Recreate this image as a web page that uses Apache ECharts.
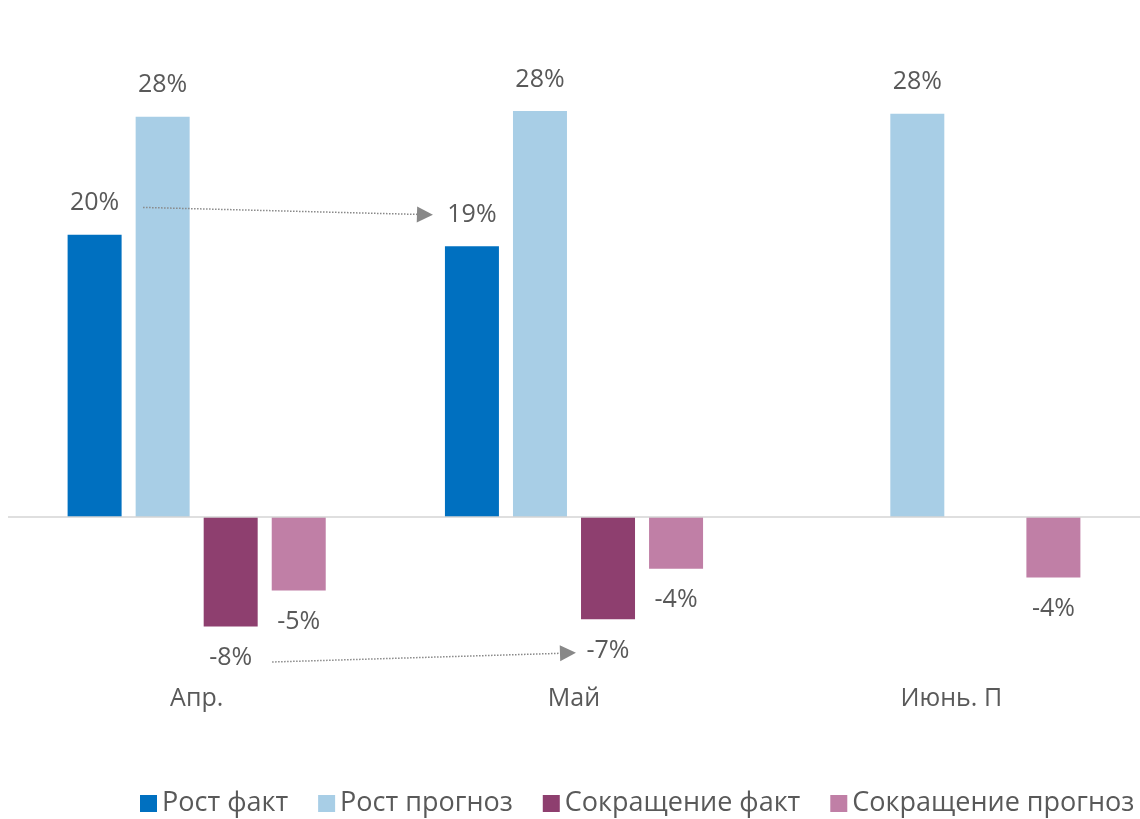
<!DOCTYPE html>
<html>
<head>
<meta charset="utf-8">
<script src="https://cdn.jsdelivr.net/npm/echarts@6/dist/echarts.min.js"></script>
<style>
html,body{margin:0;padding:0;background:#fff;}
#c{width:1140px;height:819px;}
</style>
</head>
<body>
<div id="c"></div>
<script>
const categories = ['Апр.', 'Май', 'Июнь. П'];
const seriesNames = ['Рост факт', 'Рост прогноз', 'Сокращение факт', 'Сокращение прогноз'];
const growthFact = [19.6, 18.8, null];
const growthForecast = [27.8, 28.2, 28.0];
const cutFact = [-7.6, -7.1, null];
const cutForecast = [-5.1, -3.6, -4.2];
// arrows: [x in category units (0..3), value]
const arrowTop = [[0.358, 21.5], [1.105, 21.0]];
const arrowBottom = [[0.70, -10.07], [1.484, -9.45]];

const colors = ['#0070C0', '#A8CEE6', '#8E3F6F', '#C07FA6'];
const textColor = '#595959';
const font = '"Open Sans", "Noto Sans", sans-serif';

function barSeries(name, data, color, isNeg) {
  return {
    name: name,
    type: 'bar',
    data: data,
    barWidth: 54,
    barGap: '26%',
    itemStyle: { color: color },
    label: {
      show: true,
      position: isNeg ? 'bottom' : 'top',
      distance: 19,
      color: textColor,
      fontSize: 25,
      fontFamily: font,
      formatter: p => Math.round(p.value) + '%'
    }
  };
}

const chart = echarts.init(document.getElementById('c'));
const series = [
  barSeries(seriesNames[0], growthFact, colors[0], false),
  barSeries(seriesNames[1], growthForecast, colors[1], false),
  barSeries(seriesNames[2], cutFact, colors[2], true),
  barSeries(seriesNames[3], cutForecast, colors[3], true)
];
series[0].markLine = {
  silent: true,
  symbol: ['none', 'none'],
  label: { show: false },
  lineStyle: { color: '#d4d4d4', width: 1.5, type: 'solid' },
  data: [{ yAxis: 0 }]
};
series.push({
  type: 'lines',
  coordinateSystem: 'cartesian2d',
  xAxisIndex: 1,
  yAxisIndex: 0,
  silent: true,
  z: 10,
  symbol: ['none', 'triangle'],
  symbolSize: [0, 16],
  lineStyle: { color: '#888888', width: 1.5, type: 'dotted', opacity: 1 },
  data: [ { coords: arrowTop }, { coords: arrowBottom } ]
});

chart.setOption({
  animation: false,
  backgroundColor: '#ffffff',
  color: colors,
  grid: { left: 8, right: 0, top: 85, bottom: 143.6 },
  legend: {
    data: seriesNames,
    left: 135,
    top: 785,
    itemWidth: 17,
    itemHeight: 17,
    itemGap: 30,
    icon: 'rect',
    textStyle: { color: textColor, fontSize: 27, fontFamily: font }
  },
  xAxis: [
    {
      type: 'category',
      data: categories,
      axisLine: { show: false },
      axisTick: { show: false },
      axisLabel: { color: textColor, fontSize: 25, fontFamily: font, margin: 11 }
    },
    { type: 'value', min: 0, max: 3, show: false }
  ],
  yAxis: {
    type: 'value',
    min: -11,
    max: 30,
    show: false,
    splitLine: { show: false }
  },
  series: series
});
</script>
</body>
</html>
